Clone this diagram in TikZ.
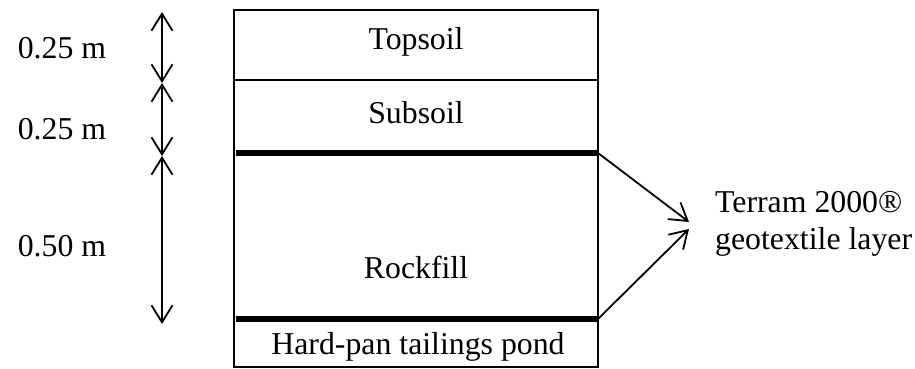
\documentclass[tikz,border=0pt]{standalone}
\usepackage{fontspec}
\setmainfont{Liberation Serif}
\usetikzlibrary{arrows.meta}
\begin{document}
\begin{tikzpicture}[x=1pt,y=-1pt,
  lbl/.style={inner sep=0pt,font=\fontsize{31.8}{37}\selectfont},
  dimarrow/.style={line width=1.8pt,{Straight Barb[length=17pt,width=21pt]}-{Straight Barb[length=17pt,width=21pt]}},
  ptr/.style={line width=1.8pt,-{Straight Barb[length=17pt,width=21pt]}},
  geotex/.style={line width=6pt},
  frame/.style={line width=1.6pt},
  thin/.style={line width=1.3pt}]
\useasboundingbox (0,0) rectangle (915,368);

% soil column
\draw[frame] (234,10) rectangle (598,367);
\draw[thin] (234,80) -- (598,80);
\coordinate (g1w) at (236,153);
\coordinate (g1) at (598,153);
\coordinate (g2w) at (236,319);
\coordinate (g2) at (598,319);
\draw[geotex] (g1w) -- (g1);
\draw[geotex] (g2w) -- (g2);

% layer names
\node[lbl] (top) at (416,42) {Topsoil};
\node[lbl] (sub) at (416,113) {Subsoil};
\node[lbl] (rock) at (416,267) {Rockfill};
\node[lbl] (pond) at (418,347) {Hard-pan tailings pond};

% thickness dimensions
\coordinate (d0) at (162,12);
\coordinate (d1) at (162,83);
\coordinate (d2) at (162,156);
\coordinate (d3) at (162,324);
\draw[dimarrow] (d0) -- (d1);
\draw[dimarrow] (d1) -- (d2);
\draw[dimarrow] (d2) -- (d3);
\node[lbl] (h1) at (62,48) {0.25 m};
\node[lbl] (h2) at (62,129) {0.25 m};
\node[lbl] (h3) at (62,246) {0.50 m};

% geotextile callout
\node[lbl,align=left,anchor=west] (geo) at (715,224) {Terram 2000®\\geotextile layer};
\coordinate (t1) at (689,222);
\coordinate (t2) at (689,229);
\draw[ptr] (g1) -- (t1);
\draw[ptr] (g2) -- (t2);
\end{tikzpicture}
\end{document}
